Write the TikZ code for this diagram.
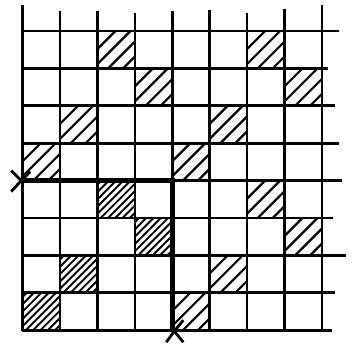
\documentclass[tikz,border=0pt]{standalone}
\usetikzlibrary{calc}
\begin{document}
\begin{tikzpicture}[x=1pt,y=-1pt,
  gridline/.style={line width=2.7pt,black},
  boldline/.style={line width=4.6pt,black},
  sparsehatch/.style={line width=2.2pt,black},
  densehatch/.style={line width=1.9pt,black},
  crossmark/.style={line width=2.8pt,black}]
\def\gL{22.7}\def\gT{31}\def\gS{37.4}
\useasboundingbox (0,0) rectangle (352,345);
% sparse hatched cells
\foreach \c/\r in {2/0,6/0,3/1,7/1,1/2,5/2,0/3,4/3,6/4,7/5,5/6,4/7}{
  \begin{scope}
    \clip ({\gL+\c*\gS},{\gT+\r*\gS}) rectangle ++(\gS,\gS);
    \foreach \k in {18,33,48,63}{
      \draw[sparsehatch] ({\gL+\c*\gS-10},{\gT+\r*\gS+\k+10}) -- ++({\gS+20},{-\gS-20});
    }
  \end{scope}
}
% dense hatched cells
\foreach \c/\r in {2/4,3/5,1/6,0/7}{
  \begin{scope}
    \clip ({\gL+\c*\gS},{\gT+\r*\gS}) rectangle ++(\gS,\gS);
    \foreach \k in {4,11.3,18.6,25.9,33.2,40.5,47.8,55.1,62.4,69.7}{
      \draw[densehatch] ({\gL+\c*\gS-10},{\gT+\r*\gS+\k+10}) -- ++({\gS+20},{-\gS-20});
    }
  \end{scope}
}
% vertical grid lines
\foreach \i/\t in {0/5,1/11,2/11,3/13,4/11,5/10,6/13,7/9,8/5}
  \draw[gridline] ({\gL+\i*\gS},\t) -- ({\gL+\i*\gS},{\gT+8*\gS+1});
% horizontal grid lines
\foreach \j/\e in {0/339,1/328,2/335,3/339,4/342,5/333,6/346,7/335,8/332}
  \draw[gridline] ({\gL-1},{\gT+\j*\gS}) -- (\e,{\gT+\j*\gS});
% bold boundary
\draw[boldline] (\gL,{\gT+4*\gS}) -- ({\gL+4*\gS},{\gT+4*\gS}) -- ({\gL+4*\gS},{\gT+8*\gS});
% cross marks
\coordinate (cl) at ({\gL-1.5},{\gT+4*\gS});
\coordinate (cb) at ({\gL+4*\gS+2},{\gT+8*\gS+1});
\draw[crossmark] ($(cl)+(-10,-10)$) -- (cl) -- ($(cl)+(-10,11)$);
\draw[crossmark] (cl) -- ($(cl)+(9,-9)$);
\draw[crossmark] ($(cb)+(-8,11)$) -- (cb) -- ($(cb)+(9,11)$);
\draw[crossmark] (cb) -- ($(cb)+(9,-11)$);
\end{tikzpicture}
\end{document}
